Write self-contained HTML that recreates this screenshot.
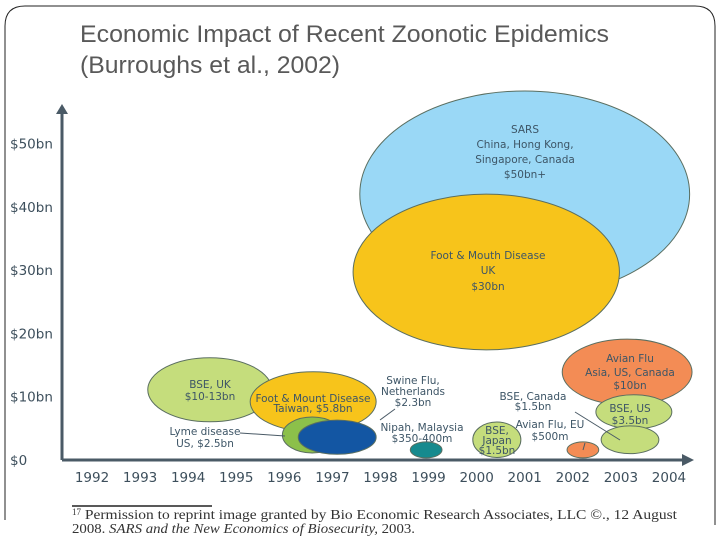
<!DOCTYPE html>
<html><head><meta charset="utf-8"><style>
html,body{margin:0;padding:0;background:#fff;}
svg{display:block;font-family:"DejaVu Sans","Liberation Sans",sans-serif;}
</style></head><body>
<svg id="chart" width="720" height="540" viewBox="0 0 720 540">
<path d="M25,6 H695 Q715,6 715,26 V525 M5,520 V26 Q5,6 25,6" fill="none" stroke="#222" stroke-width="1"/>
<text x="80" y="42" font-family="Liberation Sans, sans-serif" font-size="24" fill="#595959" textLength="529" lengthAdjust="spacingAndGlyphs">Economic Impact of Recent Zoonotic Epidemics</text>
<text x="80" y="73" font-family="Liberation Sans, sans-serif" font-size="24" fill="#595959" textLength="260" lengthAdjust="spacingAndGlyphs">(Burroughs et al., 2002)</text>
<g id="bubbles"></g>
<g id="axes"></g>
<g id="labels"></g>
<line x1="72" y1="506" x2="212" y2="506" stroke="#222" stroke-width="1.5"/>
<text x="72" y="519" font-family="Liberation Serif, serif" font-size="14" fill="#333"><tspan font-size="9" dy="-4">17</tspan><tspan dy="4" textLength="596" lengthAdjust="spacingAndGlyphs">  Permission to reprint image granted by Bio Economic Research Associates, LLC ©., 12 August</tspan></text>
<text x="72" y="533" font-family="Liberation Serif, serif" font-size="14" fill="#333" textLength="343" lengthAdjust="spacingAndGlyphs">2008.  <tspan font-style="italic">SARS and the New Economics of Biosecurity,</tspan>  2003.</text>
</svg>
<script>
const yearTicks = [1992,1993,1994,1995,1996,1997,1998,1999,2000,2001,2002,2003,2004];
const valueTicks = [0,10,20,30,40,50];
const valueTickLabels = ["$0","$10bn","$20bn","$30bn","$40bn","$50bn"];
const bubbleNames = ["sars","fmd-uk","avian-flu-asia","bse-us","bse-2003-small","bse-uk","fmd-taiwan","lyme","blue-1997","bse-japan","nipah","avian-flu-eu"];
const bubbleYears = [2001.0,2000.2,2003.13,2003.27,2003.19,1994.45,1996.6,1996.58,1997.1,2000.42,1998.95,2002.21];
const bubbleValues = [42.0,29.7,13.9,7.6,3.2,11.1,9.2,3.95,3.6,3.2,1.6,1.6];
const bubbleSpanYears = [3.43,2.77,1.35,0.79,0.6,1.29,1.31,0.62,0.81,0.5,0.33,0.33];
const bubbleSpanValues = [16.3,12.3,5.2,2.7,2.2,5.06,4.74,2.84,2.7,2.8,1.26,1.26];
const bubbleColors = ["#9ad8f6","#f7c41b","#f38c55","#c5dd7c","#c5dd7c","#c5dd7c","#f7c41b","#8cc04a","#1356a3","#c5dd7c","#168a8e","#f38c55"];

const NS="http://www.w3.org/2000/svg";
const X0=92, PXY=48.08, Y0=460, PXV=6.33;
function xScale(yr){return X0+(yr-1992)*PXY;}
function yScale(v){return Y0-v*PXV;}
function mk(tag,attrs,parent,text){const e=document.createElementNS(NS,tag);for(const k in attrs)e.setAttribute(k,attrs[k]);if(text!==undefined)e.textContent=text;parent.appendChild(e);return e;}

const gB=document.getElementById('bubbles');
const clip=mk('clipPath',{id:'clipTop'},gB);
mk('rect',{x:0,y:89,width:720,height:451},clip);
gB.setAttribute('clip-path','url(#clipTop)');
for(let i=0;i<bubbleNames.length;i++){
  const e=mk('ellipse',{cx:xScale(bubbleYears[i]),cy:yScale(bubbleValues[i]),rx:bubbleSpanYears[i]*PXY,ry:bubbleSpanValues[i]*PXV,fill:bubbleColors[i],stroke:"#5a6e60","stroke-width":1},gB);
  
  
}

const gA=document.getElementById('axes');
const ax=mk('line',{x1:62,y1:yScale(0),x2:62,y2:112,stroke:"#4a5a66","stroke-width":3},gA);


const ya=mk('path',{d:"M56,114 L62,104 L68,114 Z",fill:"#4a5a66"},gA);


const xa=mk('line',{x1:62,y1:yScale(0),x2:684,y2:yScale(0),stroke:"#4a5a66","stroke-width":3},gA);


const xar=mk('path',{d:"M682,454 L694,460 L682,466 Z",fill:"#4a5a66"},gA);


for(let i=0;i<valueTicks.length;i++){
  const t=mk('text',{x:10,y:yScale(valueTicks[i])+5,"font-size":13.5,fill:"#3d4f5c"},gA,valueTickLabels[i]);
  
  
}
for(let i=0;i<yearTicks.length;i++){
  const t=mk('text',{x:xScale(yearTicks[i]),y:482,"font-size":13.5,fill:"#3d4f5c","text-anchor":"middle"},gA,String(yearTicks[i]));
  
  
}

const labelLines=[
 ["sars-label",525,[["SARS",133],["China, Hong Kong,",148],["Singapore, Canada",163],["$50bn+",178]]],
 ["fmd-uk-label",488,[["Foot & Mouth Disease",259],["UK",274],["$30bn",290]]],
 ["avian-asia-label",630,[["Avian Flu",362],["Asia, US, Canada",376],["$10bn",389]]],
 ["bse-us-label",630,[["BSE, US",412],["$3.5bn",424]]],
 ["bse-uk-label",210,[["BSE, UK",388],["$10-13bn",400]]],
 ["fmd-taiwan-label",313,[["Foot & Mount Disease",402],["Taiwan, $5.8bn",412]]],
 ["lyme-label",205,[["Lyme disease",435],["US, $2.5bn",447]]],
 ["swine-label",413,[["Swine Flu,",384],["Netherlands",395],["$2.3bn",406]]],
 ["nipah-label",422,[["Nipah, Malaysia",431],["$350-400m",442]]],
 ["bse-japan-label",497,[["BSE,",434],["Japan",444],["$1.5bn",454]]],
 ["bse-canada-label",533,[["BSE, Canada",400],["$1.5bn",410]]],
 ["avian-eu-label",550,[["Avian Flu, EU",428],["$500m",440]]]
];
const gL=document.getElementById('labels');
for(const [nm,cx,lines] of labelLines){
  const g=mk('g',{},gL);
  
  
  for(const [s,y] of lines){mk('text',{x:cx,y:y,"font-size":10.5,fill:"#3d5566","text-anchor":"middle"},g,s);}
}
const leaders=[[240,433,285,436],[380,420,395,409],[575,412,620,440],[585,443,583,450]];
for(const l of leaders){
  const e=mk('line',{x1:l[0],y1:l[1],x2:l[2],y2:l[3],stroke:"#4a5a66","stroke-width":1},gL);
  
  
}
</script>
</body></html>
